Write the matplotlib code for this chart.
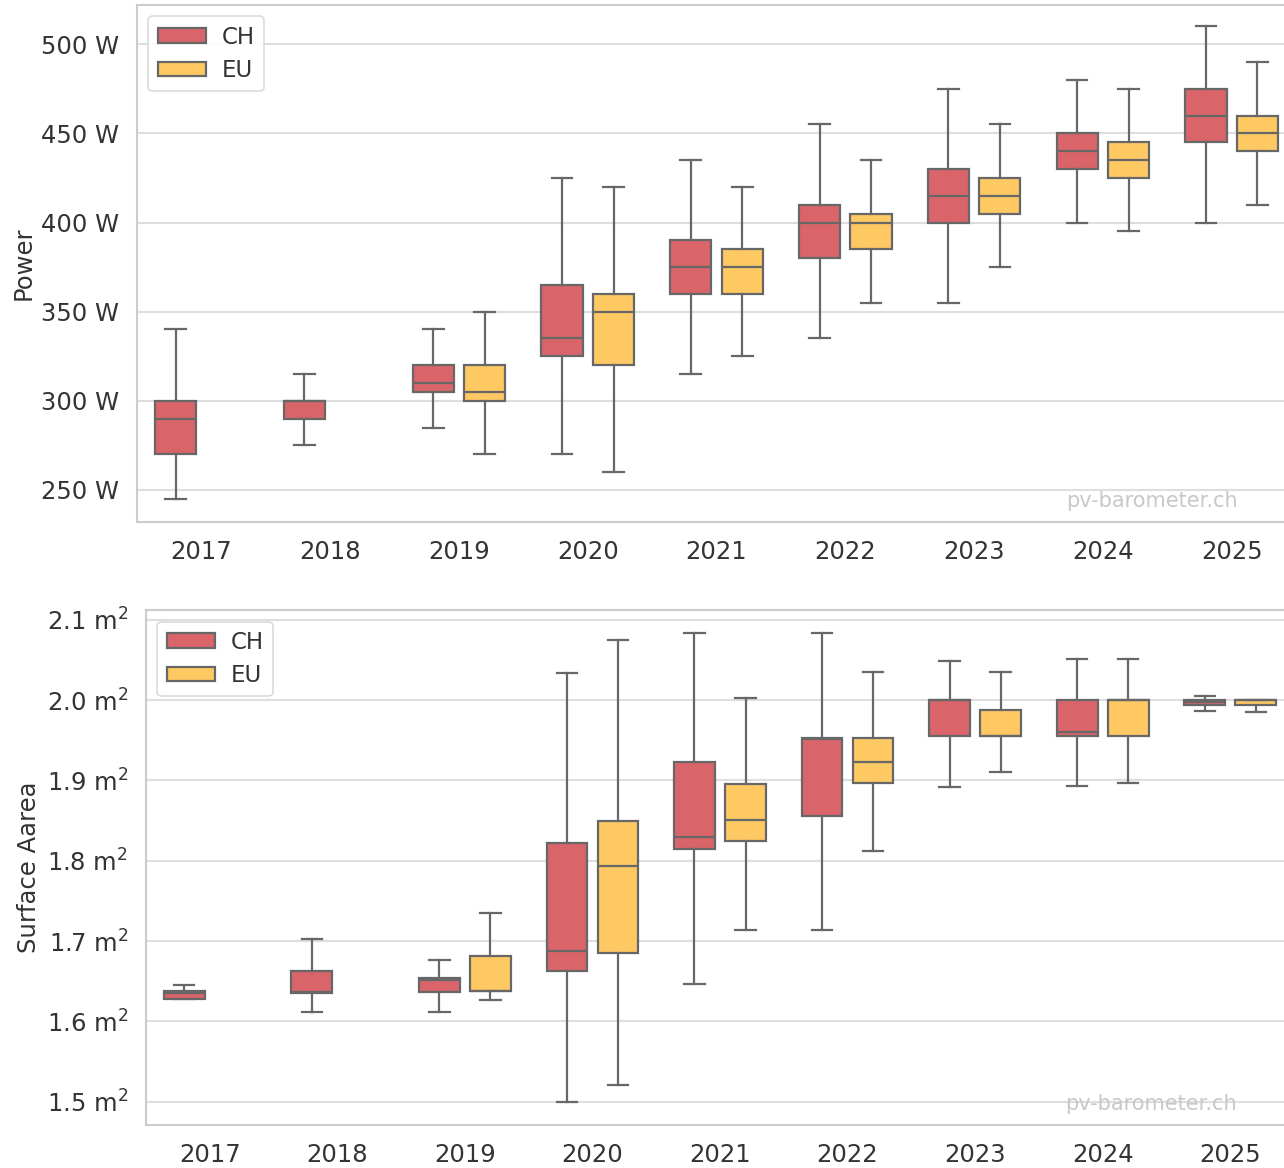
#!/usr/bin/env python3
"""Module power and surface area per installation year, CH vs EU (box plots)."""

import matplotlib
matplotlib.use("Agg")
import matplotlib.pyplot as plt
from matplotlib.patches import Patch

YEARS = ["2017", "2018", "2019", "2020", "2021", "2022", "2023", "2024", "2025"]

# box statistics per year: (whisker low, q1, median, q3, whisker high); None = no data
POWER_CH = [
    (245, 270, 290, 300, 340),
    (275, 290, 300, 300, 315),
    (285, 305, 310, 320, 340),
    (270, 325, 335, 365, 425),
    (315, 360, 375, 390, 435),
    (335, 380, 400, 410, 455),
    (355, 400, 415, 430, 475),
    (400, 430, 440, 450, 480),
    (400, 445, 460, 475, 510),
]
POWER_EU = [
    None,
    None,
    (270, 300, 305, 320, 350),
    (260, 320, 350, 360, 420),
    (325, 360, 375, 385, 420),
    (355, 385, 400, 405, 435),
    (375, 405, 415, 425, 455),
    (395, 425, 435, 445, 475),
    (410, 440, 450, 460, 490),
]
AREA_CH = [
    (1.628, 1.628, 1.635, 1.638, 1.645),
    (1.612, 1.635, 1.636, 1.663, 1.702),
    (1.612, 1.637, 1.651, 1.654, 1.676),
    (1.500, 1.663, 1.688, 1.822, 2.034),
    (1.647, 1.814, 1.829, 1.923, 2.084),
    (1.714, 1.856, 1.951, 1.953, 2.084),
    (1.892, 1.955, 2.000, 2.000, 2.049),
    (1.893, 1.955, 1.960, 2.000, 2.051),
    (1.986, 1.994, 1.997, 2.000, 2.005),
]
AREA_EU = [
    None,
    None,
    (1.626, 1.638, 1.638, 1.681, 1.735),
    (1.521, 1.685, 1.794, 1.850, 2.075),
    (1.714, 1.824, 1.851, 1.896, 2.003),
    (1.812, 1.897, 1.923, 1.953, 2.035),
    (1.910, 1.955, 1.955, 1.987, 2.035),
    (1.897, 1.955, 2.000, 2.000, 2.051),
    (1.985, 1.994, 2.000, 2.000, 2.000),
]

POWER_TICKS = [250, 300, 350, 400, 450, 500]
AREA_TICKS = [1.5, 1.6, 1.7, 1.8, 1.9, 2.0, 2.1]

COLOR_CH = "#d9646a"
COLOR_EU = "#fec863"
LINE = "#676767"
GRID = "#dedede"
FS = 17.5

plt.rcParams["font.family"] = "DejaVu Sans"
plt.rcParams["text.color"] = "#333333"
plt.rcParams["axes.labelcolor"] = "#333333"


def stats_for(rows):
    out = []
    for i, r in enumerate(rows):
        if r is None:
            continue
        lo, q1, med, q3, hi = r
        out.append((i, dict(whislo=lo, q1=q1, med=med, q3=q3, whishi=hi, fliers=[])))
    return out


def draw_boxes(ax, rows, color, offset):
    st = stats_for(rows)
    pos = [i + offset for i, _ in st]
    ax.bxp([s for _, s in st], positions=pos, widths=0.32, patch_artist=True,
           showfliers=False, manage_ticks=False,
           boxprops=dict(facecolor=color, edgecolor=LINE, linewidth=1.6),
           medianprops=dict(color=LINE, linewidth=1.6),
           whiskerprops=dict(color=LINE, linewidth=1.6),
           capprops=dict(color=LINE, linewidth=1.6))


def style_axes(ax, ylim, ticks, fmt, ylabel):
    ax.set_xlim(-0.5, len(YEARS) - 0.5)
    ax.set_ylim(*ylim)
    ax.set_xticks(range(len(YEARS)))
    ax.set_xticklabels(YEARS)
    ax.set_yticks(ticks)
    ax.set_yticklabels([fmt(t) for t in ticks])
    ax.tick_params(length=0, labelsize=FS, pad=13, colors="#333333")
    ax.grid(axis="y", color=GRID, linewidth=1.5)
    ax.set_axisbelow(True)
    for sp in ax.spines.values():
        sp.set_color("#cccccc")
        sp.set_linewidth(1.5)
    ax.set_ylabel(ylabel, fontsize=FS, labelpad=4)
    handles = [Patch(facecolor=COLOR_CH, edgecolor=LINE, linewidth=1.6, label="CH"),
               Patch(facecolor=COLOR_EU, edgecolor=LINE, linewidth=1.6, label="EU")]
    leg = ax.legend(handles=handles, loc="upper left", fontsize=16.5,
                    handlelength=2.1, handleheight=0.6, handletextpad=0.7,
                    labelspacing=0.45, fancybox=True,
                    framealpha=0.9, edgecolor="#d8d8d8")
    leg.get_frame().set_linewidth(1.2)
    ax.text(0.95, 0.04, "pv-barometer.ch", transform=ax.transAxes,
            ha="right", va="center", fontsize=15, color="#c8c8c8")


fig = plt.figure(figsize=(12.84, 11.68), dpi=100)
ax1 = fig.add_axes([0.1067, 0.5531, 0.9027, 0.4426])
ax2 = fig.add_axes([0.1137, 0.0368, 0.8941, 0.4409])

draw_boxes(ax1, POWER_CH, COLOR_CH, -0.2)
draw_boxes(ax1, POWER_EU, COLOR_EU, 0.2)
style_axes(ax1, (232, 522), POWER_TICKS, lambda v: f"{v} W", "Power")

draw_boxes(ax2, AREA_CH, COLOR_CH, -0.2)
draw_boxes(ax2, AREA_EU, COLOR_EU, 0.2)
style_axes(ax2, (1.471, 2.112), AREA_TICKS, lambda v: f"{v:.1f} m$^2$", "Surface Aarea")

fig.savefig("out.png", dpi=100)
